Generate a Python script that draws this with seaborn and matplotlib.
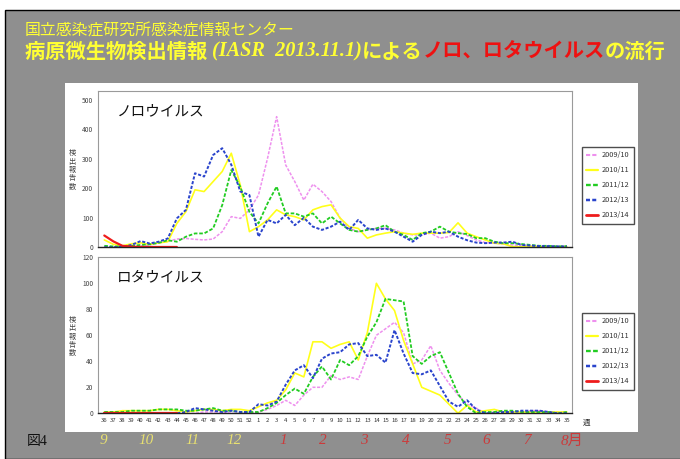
import numpy as np
import pandas as pd
import matplotlib
matplotlib.use("Agg")
import matplotlib.pyplot as plt
from matplotlib.patches import Rectangle
from matplotlib.lines import Line2D
import seaborn as sns

sns.set_theme(style="white")
plt.rcParams["font.family"] = ["Noto Sans CJK JP", "DejaVu Sans"]

# ---- data -------------------------------------------------------------
weeks = list(range(36, 53)) + list(range(1, 36))
seasons = ["2009/10", "2010/11", "2011/12", "2012/13", "2013/14"]

noro_2009 = [0, 0, 2, 3, 5, 8, 15, 20, 28, 30, 27, 25, 28, 53, 104, 98, 127,
             177, 302, 443, 279, 223, 160, 214, 189, 155, 99, 64, 53, 59, 64, 64,
             59, 48, 42, 42, 48, 31, 36, 53, 40, 25, 16, 14, 11, 8, 6, 5, 4, 4, 3, 3]
noro_2010 = [25, 10, 5, 12, 15, 10, 15, 19, 81, 121, 195, 189, 223, 257, 319, 210, 53,
             70, 93, 127, 110, 104, 93, 127, 138, 144, 99, 70, 64, 31, 42, 48,
             53, 48, 44, 48, 48, 48, 50, 83, 48, 36, 25, 14, 12, 2, 2, 3, 2, 2, 2, 2]
noro_2011 = [5, 3, 3, 5, 8, 10, 15, 24, 19, 36, 47, 47, 64, 143, 262, 205, 120,
             81, 149, 206, 115, 115, 104, 115, 81, 104, 81, 59, 53, 59, 64, 75,
             53, 42, 25, 48, 53, 70, 53, 48, 45, 31, 31, 19, 14, 14, 11, 8, 5, 5, 3, 4]
noro_2012 = [0, 0, 2, 8, 21, 13, 19, 30, 98, 127, 251, 240, 313, 336, 280, 189, 177,
             36, 93, 81, 110, 75, 100, 70, 59, 70, 87, 59, 93, 64, 59, 64,
             53, 36, 19, 42, 53, 48, 53, 36, 24, 16, 14, 16, 16, 19, 8, 6, 4, 4, 3, 3]
noro_2013 = [40, 20, 5, 2, 1, 1, 1, 1, 1]

rota_2009 = [0, 0, 0, 0, 0, 0, 0, 0, 0, 0, 0, 1, 1, 1, 0, 0, 0,
             1, 3, 6, 10, 6, 14, 20, 20, 29, 26, 28, 26, 44, 60, 65,
             70, 62, 38, 41, 52, 33, 23, 14, 7, 4, 0, 1, 1, 1, 1, 2, 2, 1, 1, 1]
rota_2010 = [1, 1, 2, 2, 2, 2, 3, 3, 2, 1, 2, 3, 3, 2, 3, 3, 2,
             5, 8, 10, 18, 31, 28, 55, 55, 50, 53, 55, 41, 62, 100, 88,
             79, 56, 38, 20, 17, 14, 7, 0, 6, 1, 2, 3, 1, 1, 1, 1, 1, 1, 1, 1]
rota_2011 = [1, 1, 1, 2, 2, 2, 3, 3, 3, 2, 2, 3, 4, 2, 2, 1, 1,
             1, 4, 8, 14, 19, 15, 28, 36, 26, 41, 37, 44, 59, 70, 88,
             87, 86, 44, 38, 44, 47, 31, 15, 5, 0, 1, 1, 2, 2, 1, 1, 1, 1, 0, 1]
rota_2012 = [0, 0, 0, 0, 0, 0, 0, 0, 0, 1, 4, 3, 2, 1, 2, 1, 1,
             7, 6, 9, 22, 33, 37, 27, 42, 46, 47, 53, 54, 44, 45, 39,
             64, 46, 31, 30, 33, 21, 9, 5, 10, 3, 0, 0, 1, 1, 2, 2, 2, 1, 0, 0]
rota_2013 = [0, 0, 0, 0, 0, 0, 0, 0, 0]

month_labels = ["9", "10", "11", "12", "1", "2", "3", "4", "5", "6", "7", "8月"]

# ---- styles -----------------------------------------------------------
palette = {"2009/10": "#ee90ee", "2010/11": "#ffff1a", "2011/12": "#22cc22",
           "2012/13": "#2a44cc", "2013/14": "#ee1c1c"}
dashes = {"2009/10": (2, 1), "2010/11": "", "2011/12": (2, 1),
          "2012/13": (1.6, 0.9), "2013/14": ""}
widths = {"2009/10": 1.1, "2010/11": 1.2, "2011/12": 1.3, "2012/13": 1.4, "2013/14": 1.6}


def long_frame(series):
    rows = []
    for name, vals in series.items():
        for i, v in enumerate(vals):
            rows.append({"pos": i, "week": weeks[i], "season": name, "count": v})
    return pd.DataFrame(rows)


noro = long_frame(dict(zip(seasons, [noro_2009, noro_2010, noro_2011, noro_2012, noro_2013])))
rota = long_frame(dict(zip(seasons, [rota_2009, rota_2010, rota_2011, rota_2012, rota_2013])))

W, H = 680, 459
fig = plt.figure(figsize=(W / 100, H / 100), dpi=100)
fig.patch.set_facecolor("white")


def fx(px):
    return px / W


def fy(py):
    return 1 - py / H


# grey slide background and white chart panel
fig.add_artist(Rectangle((fx(5), 0), 1 - fx(5) + 0.01, fy(10), transform=fig.transFigure,
                         facecolor="#8f8f8f", edgecolor="black", linewidth=1.0, zorder=-2))
fig.add_artist(Rectangle((fx(64.5), fy(432)), fx(637.5) - fx(64.5), fy(82.5) - fy(432),
                         transform=fig.transFigure, facecolor="white", edgecolor="none", zorder=-1))

ax_left, ax_w = fx(97.5), fx(572.3) - fx(97.5)
ax1 = fig.add_axes([ax_left, fy(247.3), ax_w, fy(90.7) - fy(247.3)], zorder=2)
ax2 = fig.add_axes([ax_left, fy(413.3), ax_w, fy(257.3) - fy(413.3)], zorder=2)


def draw(ax, df, ymax, yticks, title, show_weeks):
    for name in seasons:
        sub = df[df["season"] == name]
        sns.lineplot(data=sub, x="pos", y="count", ax=ax, color=palette[name],
                     linewidth=widths[name], legend=False)
        line = ax.get_lines()[-1]
        if dashes[name]:
            line.set_dashes(dashes[name])
    ax.set_xlim(-0.75, 51.6)
    ax.set_ylim(0, ymax)
    ax.set_yticks(yticks)
    ax.set_yticklabels([str(t) for t in yticks], fontsize=4.8, color="#444444")
    ax.set_xticks(range(len(weeks)))
    if show_weeks:
        ax.set_xticklabels([str(w) for w in weeks], fontsize=4.3, color="#333333")
    else:
        ax.set_xticklabels([""] * len(weeks))
    ax.tick_params(axis="x", length=2.2, width=0.8, direction="inout", color="black",
                   pad=2, labelbottom=show_weeks)
    ax.tick_params(axis="y", length=0, pad=3)
    ax.set_xlabel("")
    ax.set_ylabel("")
    for side in ["top", "right", "left"]:
        ax.spines[side].set_color("#9a9a9a")
        ax.spines[side].set_linewidth(0.8)
    ax.spines["bottom"].set_color("#222222")
    ax.spines["bottom"].set_linewidth(1.0)
    ax.set_facecolor("white")
    ax.grid(False)
    ax.text(0.04, 0.87, title, transform=ax.transAxes, fontsize=10.5, color="#111111",
            style="italic", va="center", ha="left")


draw(ax1, noro, 531, [0, 100, 200, 300, 400, 500], "ノロウイルス", False)
draw(ax2, rota, 120, [0, 20, 40, 60, 80, 100, 120], "ロタウイルス", True)

# stacked vertical axis captions
for yc in (170, 336.5):
    fig.text(fx(72), fy(yc), "\n".join("検出報告数"), fontsize=5.2, color="#444444",
             ha="center", va="center", linespacing=1.05)
fig.text(fx(587), fy(423), "週", fontsize=5.5, color="#333333", ha="center", va="center")

# legends
handles = [Line2D([], [], color=palette[s], linewidth=widths[s] + 0.4,
                  dashes=dashes[s] if dashes[s] else (None, None)) for s in seasons]
for top in (147, 313):
    leg = fig.legend(handles, seasons, loc="upper left",
                     bbox_to_anchor=(fx(582), fy(top)), bbox_transform=fig.transFigure,
                     fontsize=5.3, frameon=True, fancybox=False, handlelength=1.6,
                     handletextpad=0.5, labelspacing=0.95, borderpad=0.6, borderaxespad=0)
    leg.get_frame().set_edgecolor("#222222")
    leg.get_frame().set_linewidth(1.0)
    leg.set_zorder(3)
    for t in leg.get_texts():
        t.set_color("#333333")

# heading lines
fig.text(fx(25), fy(31), "国立感染症研究所感染症情報センター", fontsize=11.4,
         color="#ffff33", ha="left", va="center")

renderer = fig.canvas.get_renderer()
segments = [
    ("病原微生物検出情報 ", "#ffff33", ["Noto Sans CJK JP"], "normal"),
    ("(IASR  2013.11.1)", "#ffff33", ["Liberation Serif", "Noto Sans CJK JP"], "italic"),
    ("による", "#ffff33", ["Noto Sans CJK JP"], "normal"),
    ("ノロ、ロタウイルス", "#ee1111", ["Noto Sans CJK JP"], "normal"),
    ("の流行", "#ffff33", ["Noto Sans CJK JP"], "normal"),
]
xpos = fx(25)
for txt, col, fam, sty in segments:
    t = fig.text(xpos, fy(51), txt, fontsize=14.6, color=col, family=fam, style=sty,
                 weight="bold", ha="left", va="center")
    bb = t.get_window_extent(renderer)
    xpos = bb.x1 / W

# month band under the chart
month_x = [103, 146, 193, 234, 283, 323, 364, 406, 448, 486, 527, 572]
for lbl, mx in zip(month_labels, month_x):
    col = "#e8e070" if lbl in ("9", "10", "11", "12") else "#cc3a3a"
    fig.text(fx(mx), fy(441), lbl, fontsize=11, color=col, style="italic",
             family=["Liberation Serif", "Noto Sans CJK JP"], ha="center", va="center")
fig.text(fx(27), fy(442), "図4", fontsize=10, color="#111111",
         family=["Liberation Serif", "Noto Sans CJK JP"], ha="left", va="center")

fig.savefig("out.png", dpi=100, facecolor=fig.get_facecolor())
